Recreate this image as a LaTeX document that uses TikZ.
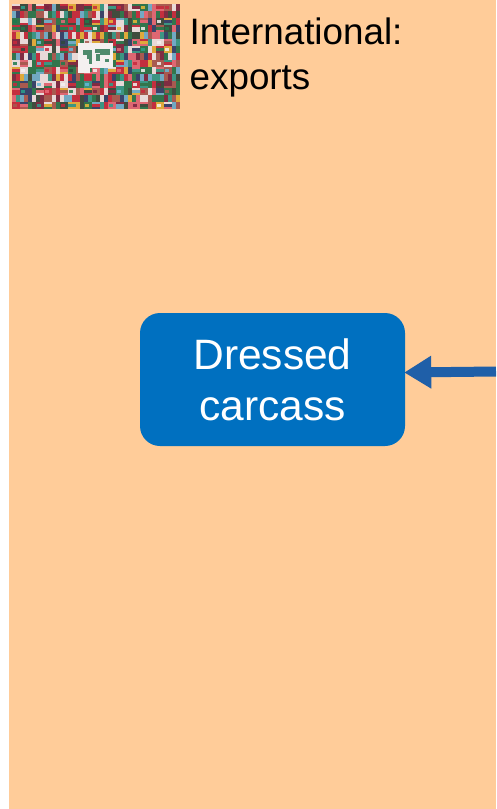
\documentclass[tikz,border=0pt]{standalone}
\usepackage{fontspec}
\setmainfont{Liberation Sans}
\usetikzlibrary{arrows.meta}
\definecolor{bgpeach}{HTML}{FFCC99}
\definecolor{boxblue}{HTML}{0070C0}
\definecolor{arrowblue}{HTML}{1F5FA8}
\definecolor{fa}{HTML}{C8283C}
\definecolor{fb}{HTML}{1E7A4C}
\definecolor{fc}{HTML}{F4F0F0}
\definecolor{fd}{HTML}{27406E}
\definecolor{fe}{HTML}{E8B838}
\definecolor{ff}{HTML}{7A2440}
\definecolor{fg}{HTML}{68B8D8}
\definecolor{fh}{HTML}{E86A78}
\definecolor{fi}{HTML}{2E4A3C}
\definecolor{fj}{HTML}{A85A50}
\definecolor{fk}{HTML}{2AA08C}
\definecolor{mapgreen}{HTML}{4E8A6C}
\pgfmathdeclarerandomlist{flagcols}{{fa}{fb}{fc}{fd}{fe}{ff}{fg}{fh}{fi}{fa}{fk}{fc}{fb}{fj}}
\tikzset{
  bluebox/.style={fill=boxblue,rounded corners=20pt,minimum width=265pt,minimum height=133pt,inner sep=0pt,text=white,align=center,font=\fontsize{42.5}{51}\selectfont},
  caption/.style={anchor=north west,inner sep=0pt,align=left,text=black,font=\fontsize{36.8}{45}\selectfont},
  flowarrow/.style={draw=arrowblue,line width=10pt,shorten >=-1pt,-{Triangle[length=27pt,width=31pt]}}
}
\begin{document}
\begin{tikzpicture}[x=1pt,y=-1pt]
\useasboundingbox (0,0) rectangle (496,809);
\fill[white] (0,0) rectangle (496,809);
\fill[bgpeach] (9,0) rectangle (496,809);
% flag mosaic: small flags, some striped across and some upright
\fill[fj] (12,4) rectangle (180,109);
\pgfmathsetseed{4217}
\foreach \r in {0,...,14}{
  \foreach \c in {0,...,20}{
    \pgfmathsetmacro{\xa}{12+8*\c}
    \pgfmathsetmacro{\ya}{4+7*\r}
    \pgfmathrandomitem{\cola}{flagcols}
    \pgfmathrandomitem{\colb}{flagcols}
    \pgfmathrandomitem{\colc}{flagcols}
    \pgfmathtruncatemacro{\kind}{mod(\r*7+\c*5+\r*\c,3)}
    \ifnum\kind=0
      \fill[\cola,opacity=.85] (\xa,\ya) rectangle ++(8,2.4);
      \fill[\colb,opacity=.85] (\xa,\ya+2.4) rectangle ++(8,2.3);
      \fill[\colc,opacity=.85] (\xa,\ya+4.7) rectangle ++(8,2.3);
    \else
      \ifnum\kind=1
        \fill[\cola,opacity=.85] (\xa,\ya) rectangle ++(4,7);
        \fill[\colb,opacity=.85] (\xa+4,\ya) rectangle ++(4,7);
      \else
        \fill[\cola,opacity=.85] (\xa,\ya) rectangle ++(8,7);
        \fill[\colb,opacity=.85] (\xa+1,\ya+2) rectangle ++(4,3);
      \fi
    \fi
  }
}
% central world map panel
\fill[fc] (78,43) rectangle (113,68);
\fill[fc] (78,68) rectangle (90,73);
\fill[mapgreen] (83,50) rectangle ++(9,5);
\fill[mapgreen] (87,55) rectangle ++(5,4);
\fill[mapgreen] (89,59) rectangle ++(3,5);
\fill[mapgreen] (95,49) rectangle ++(5,4);
\fill[mapgreen] (96,54) rectangle ++(4,7);
\fill[mapgreen] (100,49) rectangle ++(10,6);
\fill[mapgreen] (105,59) rectangle ++(4,3);
\node[caption] (cap) at (189.5,18) {International:\\exports};
\node[bluebox] (carcass) at (272.5,379.5) {\raisebox{-1pt}{Dressed}\\\raisebox{-1pt}{carcass}};
\coordinate (src) at (496,371.5);
\coordinate (tip) at ([yshift=7pt]carcass.east);
\draw[flowarrow] (src) -- (tip);
\end{tikzpicture}
\end{document}
